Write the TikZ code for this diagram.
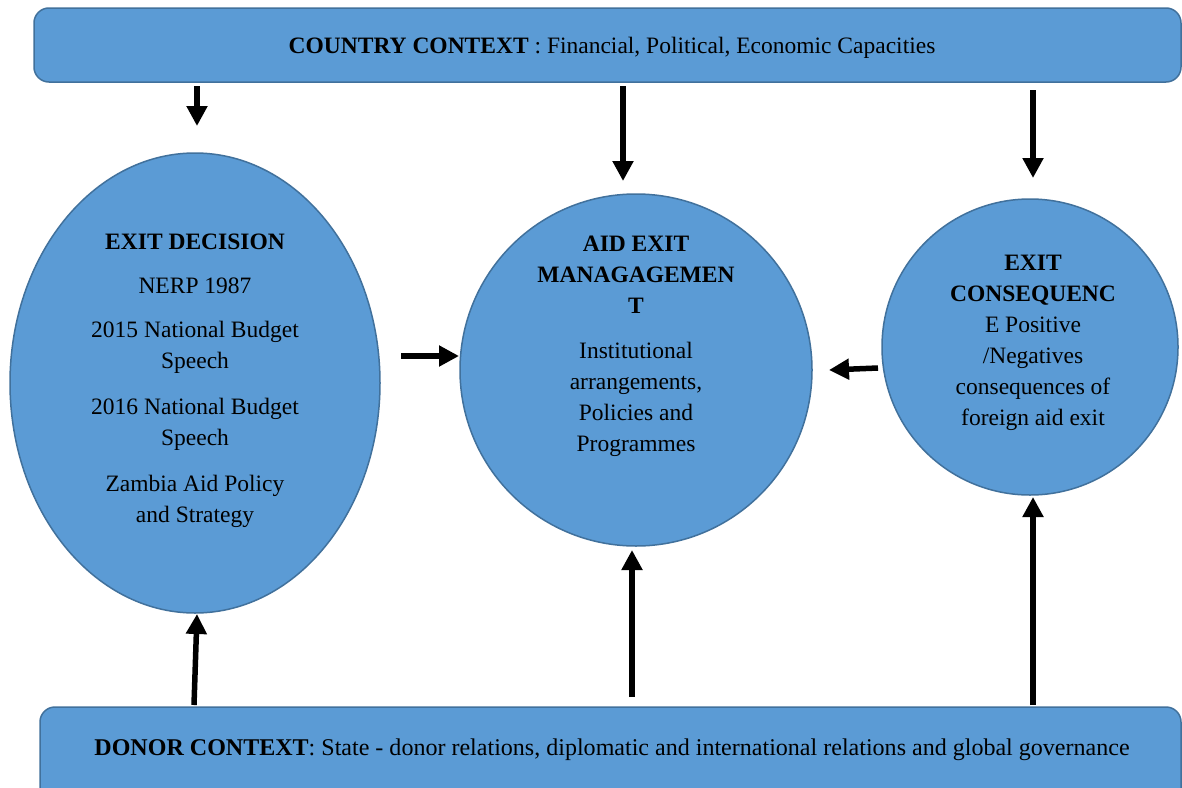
\documentclass[tikz,border=0pt]{standalone}
\usepackage{fontspec}
\setmainfont{Liberation Serif}
\usetikzlibrary{shapes.geometric,arrows.meta}
\definecolor{fillblue}{HTML}{5B9BD5}
\definecolor{edgeblue}{HTML}{41719C}
\tikzset{
  shapebox/.style={draw=edgeblue, line width=1.5pt, fill=fillblue, inner sep=0pt},
  barbox/.style={shapebox, rectangle, rounded corners=15pt},
  txt/.style={align=center, inner sep=0pt, font=\fontsize{23.5}{31}\selectfont},
  flow/.style={line width=5.5pt, -{Triangle[length=20pt,width=20pt]}},
}
\begin{document}
\begin{tikzpicture}[x=1pt,y=-1pt]
\clip (0,0) rectangle (1182,787);
\fill[white] (0,0) rectangle (1182,787);
% bars
\node[barbox, minimum width=1147pt, minimum height=74pt] (country) at (607.5,45) {};
\node[barbox, minimum width=1141pt, minimum height=110pt] (donor) at (610.5,762) {};
% shapes
\node[shapebox, ellipse, minimum width=370pt, minimum height=460pt] (decision) at (195,383) {};
\node[shapebox, circle, minimum size=352pt] (management) at (636,370) {};
\node[shapebox, circle, minimum size=296pt] (consequence) at (1030,347) {};
% texts
\node[txt] (countrytxt) at (612,48) {\textbf{COUNTRY CONTEXT} : Financial, Political, Economic Capacities};
\node[txt] (donortxt) at (612,750) {\resizebox{1035pt}{!}{\textbf{DONOR CONTEXT}: State - donor relations, diplomatic and international relations and global governance}};
\node[txt] (dectxt) at (195,381) {\textbf{EXIT DECISION}\\[13pt]
NERP 1987\\[13pt]
2015 National Budget\\Speech\\[15pt]
2016 National Budget\\Speech\\[15pt]
Zambia Aid Policy\\and Strategy};
\node[txt] (mgmttxt) at (636,346) {\textbf{AID EXIT}\\\textbf{MANAGAGEMEN}\\\textbf{T}\\[14pt]
Institutional\\arrangements,\\Policies and\\Programmes};
\node[txt] (constxt) at (1033,343) {\textbf{EXIT}\\\textbf{CONSEQUENC}\\E Positive\\/Negatives\\consequences of\\foreign aid exit};
% arrow end points
\coordinate (a1s) at (197,86);  \coordinate (a1e) at (197,126);
\coordinate (a2s) at (623,86);  \coordinate (a2e) at (623,181);
\coordinate (a3s) at (1033,90); \coordinate (a3e) at (1033,178);
\coordinate (a4s) at (401,356); \coordinate (a4e) at (459,356);
\coordinate (a5s) at (878,368); \coordinate (a5e) at (829,370);
\coordinate (a6s) at (194,705); \coordinate (a6e) at (197,614);
\coordinate (a7s) at (632,697); \coordinate (a7e) at (632,550);
\coordinate (a8s) at (1033,705); \coordinate (a8e) at (1033,497);
\draw[flow] (a1s) -- (a1e);
\draw[flow] (a2s) -- (a2e);
\draw[flow] (a3s) -- (a3e);
\draw[flow] (a4s) -- (a4e);
\draw[flow] (a5s) -- (a5e);
\draw[flow] (a6s) -- (a6e);
\draw[flow] (a7s) -- (a7e);
\draw[flow] (a8s) -- (a8e);
\end{tikzpicture}
\end{document}
